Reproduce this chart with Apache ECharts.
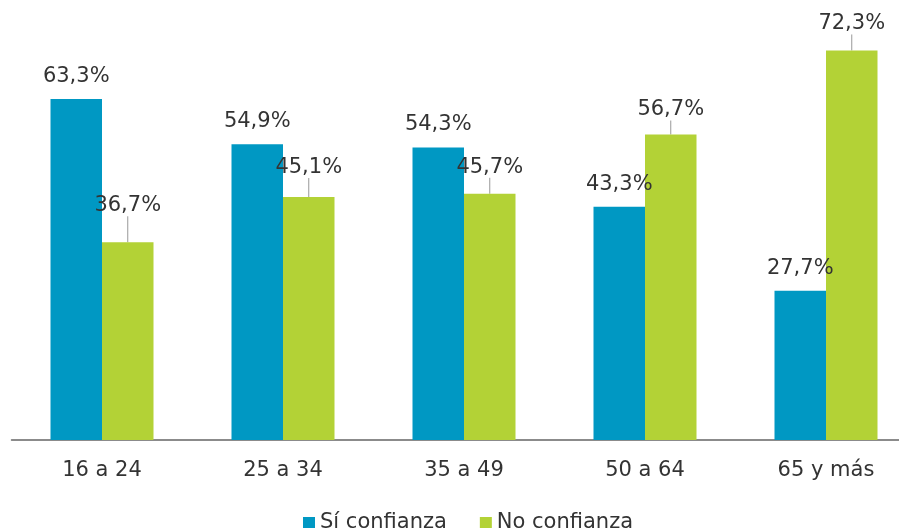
<!DOCTYPE html>
<html>
<head>
<meta charset="utf-8">
<script src="https://cdn.jsdelivr.net/npm/echarts@6/dist/echarts.min.js"></script>
<style>html,body{margin:0;padding:0;background:#fff}#c{width:899px;height:530px}</style>
</head>
<body>
<div id="c"></div>
<script>
const categories = ["16 a 24", "25 a 34", "35 a 49", "50 a 64", "65 y más"];
const siConfianza = [63.3, 54.9, 54.3, 43.3, 27.7];
const noConfianza = [36.7, 45.1, 45.7, 56.7, 72.3];
const seriesNames = ["Sí confianza", "No confianza"];
// extra upward shift of the "No confianza" labels (leader lines)
const noLabelLift = [-14, -7, -4, -2, -4];

const FONT = "DejaVu Sans";
const FS = 21;
const fmt = p => p.value.toFixed(1).replace('.', ',') + '%';
const chart = echarts.init(document.getElementById('c'));
chart.setOption({
  animation: false,
  textStyle: { fontFamily: FONT },
  grid: { left: 11.5, width: 905, top: 9, bottom: 90, containLabel: false, outerBoundsMode: 'none' },
  legend: {
    left: 298, top: 507,
    icon: 'rect', itemWidth: 12, itemHeight: 11, itemGap: 33,
    textStyle: { fontFamily: FONT, fontSize: FS, color: '#333' },
    data: seriesNames
  },
  xAxis: {
    type: 'category', data: categories,
    axisLine: { lineStyle: { color: '#666', width: 1.5 } },
    axisTick: { show: false },
    axisLabel: { fontFamily: FONT, fontSize: FS, color: '#333', margin: 20 }
  },
  yAxis: { type: 'value', min: 0, max: 80, show: false, splitLine: { show: false } },
  series: [
    {
      name: seriesNames[0], type: 'bar', data: siConfianza,
      barWidth: 51.5, barGap: '0%',
      itemStyle: { color: '#0098C3' },
      label: { show: true, position: 'top', distance: 12, formatter: fmt,
               fontFamily: FONT, fontSize: FS, color: '#333' }
    },
    {
      name: seriesNames[1], type: 'bar', data: noConfianza,
      barWidth: 51.5,
      itemStyle: { color: '#B3D236' },
      label: { show: true, position: 'top', distance: 6, padding: [0, 0, 6, 0], formatter: fmt,
               fontFamily: FONT, fontSize: FS, color: '#333' },
      labelLayout: p => ({ dy: noLabelLift[p.dataIndex] }),
      labelLine: { show: true, lineStyle: { color: '#999', width: 1 } }
    }
  ]
});
</script>
</body>
</html>
